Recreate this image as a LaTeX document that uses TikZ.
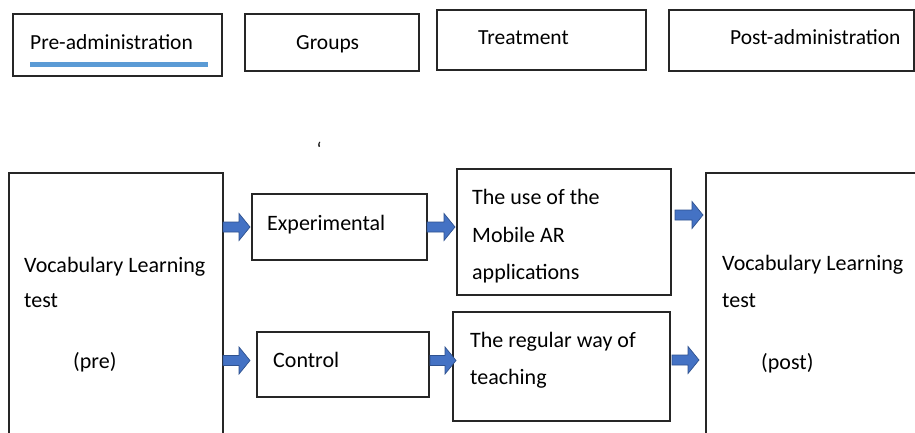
\documentclass[tikz,border=0pt]{standalone}
\usepackage{fontspec}
\setmainfont{Carlito}
\usetikzlibrary{calc}
\definecolor{arrowfill}{HTML}{4472C4}
\definecolor{arrowline}{HTML}{2F528F}
\definecolor{ulblue}{HTML}{5B9BD5}
\begin{document}
\begin{tikzpicture}[x=1pt,y=-1pt,
  box/.style={draw=black!85, line width=1.1pt, inner sep=0pt, outer sep=0pt, anchor=north west},
  txt/.style={anchor=base west, inner sep=0pt, font=\fontsize{22}{26}\selectfont},
  toptxt/.style={anchor=base west, inner sep=0pt, font=\fontsize{21.5}{26}\selectfont},
  blockarrow/.style={draw=arrowline, fill=arrowfill, line width=0.7pt,
    to path={let \p1=(\tikztostart), \p2=(\tikztotarget) in
      (\x1,\y1+5pt) -- (\x2-11pt,\y1+5pt) -- (\x2-11pt,\y1+13.5pt) -- (\x2,\y1)
      -- (\x2-11pt,\y1-13.5pt) -- (\x2-11pt,\y1-5pt) -- (\x1,\y1-5pt) -- cycle}}]
\clip (0,0) rectangle (915,433);
\fill[white] (0,0) rectangle (915,433);
% header boxes
\node[box, minimum width=209pt, minimum height=62pt] (preadm) at (13,14) {};
\node[box, minimum width=174pt, minimum height=57pt] (groups) at (245,14) {};
\node[box, minimum width=209pt, minimum height=60pt] (treat) at (437,10) {};
\node[box, minimum width=245pt, minimum height=61pt] (postadm) at (669,10) {};
\node[toptxt] (tpre) at (30,50) {Pre-administration};
\draw[ulblue, line width=5pt] (30,64.5) -- (208,64.5);
\node[toptxt] (tgroups) at (296,50) {Groups};
\node[toptxt] (ttreat) at (478,45) {Treatment};
\node[toptxt] (tpost) at (730,45) {Post-administration};
\node[anchor=base west, inner sep=0pt, font=\fontsize{20}{22}\selectfont] (tick) at (316.5,157) {`};
% main boxes
\node[box, minimum width=214pt, minimum height=280pt] (vpre) at (9,173) {};
\node[box, minimum width=175pt, minimum height=66pt] (exp) at (252,194) {};
\node[box, minimum width=214pt, minimum height=126pt] (use) at (457,169) {};
\node[box, minimum width=240pt, minimum height=280pt] (vpost) at (706,173) {};
\node[box, minimum width=172pt, minimum height=65pt] (ctl) at (257,332) {};
\node[box, minimum width=217pt, minimum height=109pt] (reg) at (453,312) {};
% texts
\node[txt] (l1) at (24,272) {Vocabulary Learning};
\node[txt] (l2) at (24,307) {test};
\node[txt] (l3) at (73,368) {(pre)};
\node[txt] (e1) at (267,230) {Experimental};
\node[txt] (c1) at (273,367) {Control};
\node[txt] (u1) at (472,204) {The use of the};
\node[txt] (u2) at (472,242) {Mobile AR};
\node[txt] (u3) at (472,279) {applications};
\node[txt] (r1) at (470,347) {The regular way of};
\node[txt] (r2) at (470,384) {teaching};
\node[txt] (p1) at (722,270) {Vocabulary Learning};
\node[txt] (p2) at (722,307) {test};
\node[txt] (p3) at (761,369) {(post)};
% arrows
\draw[blockarrow] (vpre.east |- exp.west) to ($(exp.west)+(-2,0)$);
\draw[blockarrow] (exp.east) to ($(use.west)+(-2,0)$);
\draw[blockarrow] ($(use.east)+(4,-17)$) to ($(vpost.west)+(-3,0)$);
\draw[blockarrow] ($(vpre.east |- ctl.west)+(0,-4)$) to ($(ctl.west)+(-7,0)$);
\draw[blockarrow] ($(ctl.east)+(1,-4)$) to ($(reg.west)+(3,0)$);
\draw[blockarrow] ($(reg.east)+(2,-6.5)$) to ($(vpost.west)+(-7,0)$);
\end{tikzpicture}
\end{document}
